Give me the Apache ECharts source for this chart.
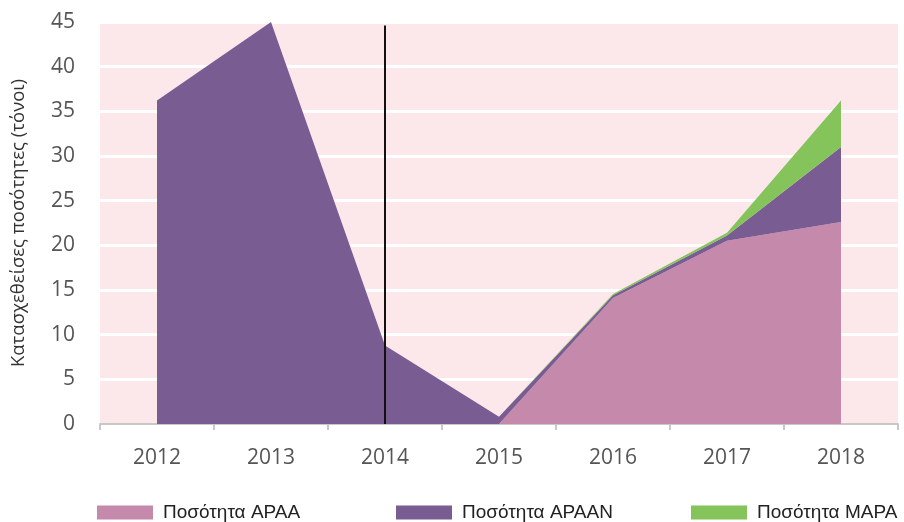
<!DOCTYPE html>
<html>
<head>
<meta charset="utf-8">
<script src="https://cdn.jsdelivr.net/npm/echarts@6/dist/echarts.min.js"></script>
<style>
  html, body { margin: 0; padding: 0; background: #fff; }
  #chart { width: 904px; height: 522px; }
</style>
</head>
<body>
<div id="chart"></div>
<script>
// κατηγορίες (έτη)
const years = ['2012', '2013', '2014', '2015', '2016', '2017', '2018'];

// τιμές σειρών (τόνοι), στοιβαγμένες
const apaa = [0, 0, 0, 0, 14.1, 20.5, 22.6];
const apaan = [36.2, 45, 8.8, 0.8, 0.3, 0.6, 8.4];
const mapa = [0, 0, 0, 0, 0.15, 0.3, 5.2];

const seriesNames = ['Ποσότητα ΑΡΑΑ', 'Ποσότητα ΑΡΑΑΝ', 'Ποσότητα ΜΑΡΑ'];
const colors = ['#c489ab', '#795c92', '#84c45a'];

// κάθετη γραμμή στο 2014
const markerYear = '2014';
const markerTop = 44.6;

const chart = echarts.init(document.getElementById('chart'));

const axisFont = "'Open Sans', 'DejaVu Sans', sans-serif";
const legendFont = "'Liberation Sans Narrow', 'Liberation Sans', Arial, sans-serif";

const makeArea = (name, data, color, extra) => Object.assign({
  name: name,
  type: 'line',
  stack: 'total',
  data: data,
  symbol: 'none',
  showSymbol: false,
  lineStyle: { width: 0 },
  areaStyle: { color: color, opacity: 1 },
  itemStyle: { color: color },
  silent: true
}, extra || {});

const legendBase = (name, left) => ({
  data: [name],
  left: left,
  top: 503,
  padding: 0,
  itemWidth: 56,
  itemHeight: 14,
  itemGap: 0,
  icon: 'rect',
  textStyle: {
    fontFamily: legendFont,
    fontSize: 19,
    lineHeight: 18,
    color: '#222',
    padding: [0, 0, 0, 5]
  }
});

const option = {
  animation: false,
  grid: {
    left: 100,
    right: 6,
    top: 22,
    bottom: 98,
    containLabel: false,
    outerBoundsMode: 'none',
    show: true,
    backgroundColor: '#fce8ea',
    borderWidth: 0
  },
  legend: [
    legendBase(seriesNames[0], 97),
    legendBase(seriesNames[1], 396),
    legendBase(seriesNames[2], 691)
  ],
  xAxis: {
    type: 'category',
    data: years,
    boundaryGap: true,
    axisLine: { lineStyle: { color: '#c8c8c8', width: 2 } },
    axisTick: { show: true, length: 6, lineStyle: { color: '#c8c8c8', width: 2 } },
    axisLabel: {
      fontFamily: axisFont,
      fontSize: 21,
      color: '#555',
      margin: 24
    },
    splitLine: { show: false }
  },
  yAxis: {
    type: 'value',
    min: 0,
    max: 45,
    interval: 5,
    name: 'Κατασχεθείσες ποσότητες (τόνοι)',
    nameLocation: 'middle',
    nameGap: 72,
    nameTextStyle: {
      fontFamily: axisFont,
      fontSize: 18.5,
      color: '#333'
    },
    axisLine: { show: false },
    axisTick: { show: false },
    axisLabel: {
      fontFamily: axisFont,
      fontSize: 21,
      color: '#555',
      margin: 25
    },
    splitLine: { lineStyle: { color: '#ffffff', width: 3 } }
  },
  series: [
    makeArea(seriesNames[0], apaa, colors[0]),
    makeArea(seriesNames[1], apaan, colors[1], {
      markLine: {
        silent: true,
        symbol: 'none',
        label: { show: false },
        lineStyle: { color: '#111', width: 2, type: 'solid' },
        data: [[
          { coord: [markerYear, markerTop] },
          { coord: [markerYear, 0] }
        ]]
      }
    }),
    makeArea(seriesNames[2], mapa, colors[2])
  ]
};

chart.setOption(option);
</script>
</body>
</html>
